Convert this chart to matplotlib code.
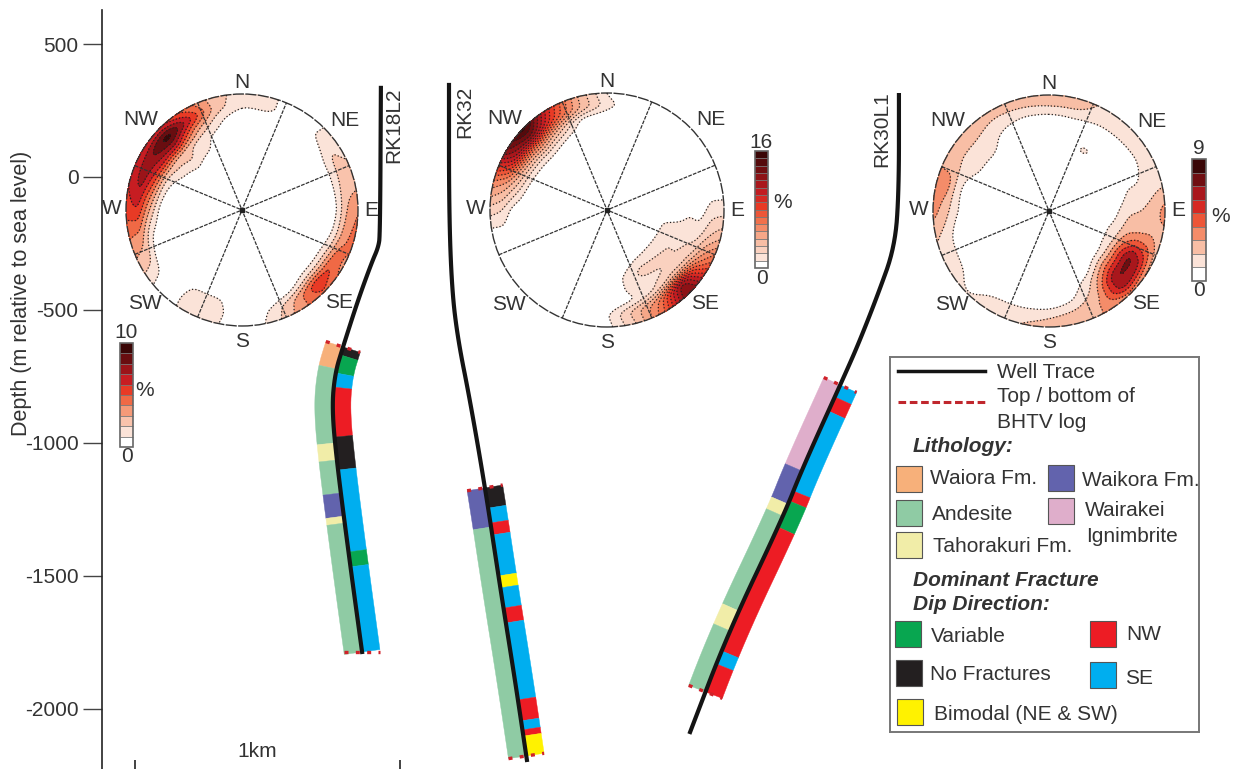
import matplotlib
matplotlib.use('Agg')
import matplotlib.pyplot as plt
from matplotlib.colors import LinearSegmentedColormap
from matplotlib.patches import Circle, Rectangle
import numpy as np

W, H = 1236, 769
plt.rcParams['font.family'] = ['Liberation Sans', 'DejaVu Sans']
plt.rcParams['axes.unicode_minus'] = False
TEXT = '#333333'
FS = 15

# well traces, x in metres from the scale bar, depth in metres
rk18_x = [928, 925, 918, 894, 842, 785, 755, 743, 762, 811, 857]
rk18_d = [335, -218, -265, -320, -462, -639, -737, -869, -1075, -1451, -1786]
rk32_x = [1185, 1185, 1196, 1219, 1264, 1321, 1378, 1434, 1479]
rk32_d = [346, -124, -425, -613, -838, -1166, -1542, -1891, -2192]
rk30_x = [2883, 2883, 2868, 2800, 2736, 2687, 2521, 2446, 2238, 2095]
rk30_d = [308, -49, -263, -451, -613, -726, -1090, -1278, -1715, -2087]

# log sections, depth measured on the trace
lith_colors = {'Waiora Fm.': '#f7b07a', 'Andesite': '#8fcba4', 'Tahorakuri Fm.': '#f1eda8',
               'Waikora Fm.': '#6263ad', 'Wairakei': '#dfaecb'}
frac_colors = {'Variable': '#08a650', 'No Fractures': '#231f20', 'Bimodal': '#fff200',
               'NW': '#ed1c24', 'SE': '#00aeef'}

rk18_lith_depth = [-639, -722, -1000, -1064, -1188, -1275, -1301, -1786]
rk18_lith = ['Waiora Fm.', 'Andesite', 'Tahorakuri Fm.', 'Andesite', 'Waikora Fm.', 'Tahorakuri Fm.', 'Andesite']
rk18_frac_depth = [-639, -669, -737, -790, -978, -1102, -1410, -1466, -1786]
rk18_frac = ['No Fractures', 'Variable', 'SE', 'NW', 'No Fractures', 'SE', 'Variable', 'SE']

rk32_lith_depth = [-1169, -1316, -2177]
rk32_lith = ['Waikora Fm.', 'Andesite']
rk32_frac_depth = [-1169, -1245, -1301, -1346, -1500, -1545, -1621, -1677, -1966, -2045, -2079, -2102, -2177]
rk32_frac = ['No Fractures', 'SE', 'NW', 'SE', 'Bimodal', 'SE', 'NW', 'SE', 'NW', 'SE', 'NW', 'Bimodal']

rk30_lith_depth = [-782, -1105, -1230, -1275, -1632, -1707, -1936]
rk30_lith = ['Wairakei', 'Waikora Fm.', 'Tahorakuri Fm.', 'Andesite', 'Tahorakuri Fm.', 'Andesite']
rk30_frac_depth = [-782, -827, -880, -1181, -1218, -1316, -1782, -1831, -1936]
rk30_frac = ['SE', 'NW', 'SE', 'NW', 'Variable', 'NW', 'SE', 'NW']

# pole density in percent, rows are stereonet radius, columns azimuth
net_az = np.arange(0, 360, 15)
net_r = [1.0, 0.9, 0.8, 0.7, 0.6, 0.5, 0.4]

rk18_density = np.array([
    [1.5, 1.2, 0.3, 1.0, 1.8, 2.5, 4.0, 4.5, 3.5, 5.0, 3.5, 1.3, 0.0, 1.3, 1.3, 0.3, 2.5, 4.0, 5.5, 6.0, 6.0, 6.0, 4.5, 2.5],
    [1.2, 1.3, 0.0, 1.1, 2.2, 2.5, 3.0, 3.5, 5.0, 6.0, 3.0, 1.0, 0.0, 1.5, 1.5, 0.0, 2.0, 3.5, 6.0, 7.5, 8.0, 10., 6.5, 2.5],
    [0.0, 0.3, 0.0, 0.0, 0.8, 0.8, 0.6, 1.0, 2.0, 2.0, 0.5, 0.0, 0.0, 1.2, 1.2, 0.0, 0.0, 1.0, 3.0, 5.0, 6.5, 7.0, 3.5, 1.3],
    [0.0, 0.0, 0.0, 0.0, 0.0, 0.0, 0.0, 0.0, 0.0, 0.0, 0.0, 0.0, 0.0, 0.0, 0.0, 0.0, 0.0, 0.0, 0.5, 1.5, 2.5, 2.5, 1.5, 0.6],
    [0.0, 0.0, 0.0, 0.0, 0.0, 0.0, 0.0, 0.0, 0.0, 0.0, 0.0, 0.0, 0.0, 0.0, 0.0, 0.0, 0.0, 0.0, 0.0, 0.0, 1.3, 2.0, 1.3, 0.0],
    [0.0, 0.0, 0.0, 0.0, 0.0, 0.0, 0.0, 0.0, 0.0, 0.0, 0.0, 0.0, 0.0, 0.0, 0.0, 0.0, 0.0, 0.0, 0.0, 0.0, 0.0, 0.8, 0.0, 0.0],
    [0.0] * 24])

rk32_density = np.array([
    [0.8, 0.0, 0.0, 0.0, 0.0, 0.0, 1.5, 4.0, 8.0, 14., 7.0, 3.0, 0.5, 0.0, 0.0, 0.0, 0.0, 0.0, 2.5, 6.0, 13., 16., 9.0, 4.0],
    [1.5, 0.0, 0.0, 0.0, 0.0, 0.0, 1.5, 3.0, 6.0, 13., 6.0, 3.5, 0.8, 0.0, 0.0, 0.0, 0.0, 0.3, 2.0, 5.0, 11., 13., 8.0, 4.0],
    [0.3, 0.0, 0.0, 0.0, 0.0, 0.0, 0.5, 1.5, 3.0, 3.5, 2.0, 0.8, 0.0, 0.0, 0.0, 0.0, 0.0, 0.0, 0.5, 3.0, 5.0, 6.0, 3.5, 0.5],
    [0.0, 0.0, 0.0, 0.0, 0.0, 0.0, 0.8, 1.5, 2.0, 2.0, 1.5, 1.2, 0.0, 0.0, 0.0, 0.0, 0.0, 0.0, 0.0, 0.8, 1.5, 2.0, 1.0, 0.0],
    [0.0, 0.0, 0.0, 0.0, 0.0, 0.0, 0.0, 1.5, 2.0, 2.2, 2.5, 1.2, 0.0, 0.0, 0.0, 0.0, 0.0, 0.0, 0.0, 0.0, 0.0, 0.0, 0.0, 0.0],
    [0.0, 0.0, 0.0, 0.0, 0.0, 0.0, 0.0, 1.2, 1.3, 1.5, 1.2, 0.5, 0.0, 0.0, 0.0, 0.0, 0.0, 0.0, 0.0, 0.0, 0.0, 0.0, 0.0, 0.0],
    [0.0, 0.0, 0.0, 0.0, 0.0, 0.0, 0.0, 0.0, 0.3, 0.0, 0.0, 0.0, 0.0, 0.0, 0.0, 0.0, 0.0, 0.0, 0.0, 0.0, 0.0, 0.0, 0.0, 0.0]])

rk30_density = np.array([
    [2.8, 2.8, 1.6, 1.5, 1.3, 1.6, 3.5, 2.5, 2.5, 3.5, 3.0, 3.0, 2.5, 2.0, 1.8, 1.0, 1.6, 2.0, 3.5, 3.5, 2.5, 2.5, 2.5, 2.8],
    [2.0, 2.0, 1.4, 1.3, 1.2, 1.5, 2.5, 3.0, 6.0, 7.0, 3.0, 2.2, 1.8, 1.5, 1.4, 0.5, 1.3, 1.4, 2.5, 3.5, 2.2, 2.2, 1.8, 1.8],
    [0.5, 0.7, 0.5, 0.5, 0.5, 1.1, 2.0, 3.0, 7.5, 7.0, 2.5, 1.0, 0.3, 0.2, 0.0, 0.0, 0.0, 0.3, 1.2, 1.2, 1.5, 1.5, 1.0, 0.5],
    [0.0, 0.0, 0.0, 0.3, 0.3, 1.0, 1.8, 2.8, 5.0, 4.5, 1.8, 0.3, 0.0, 0.0, 0.0, 0.0, 0.0, 0.0, 0.2, 0.3, 1.2, 1.3, 0.5, 0.0],
    [0.0, 0.0, 1.5, 0.0, 0.0, 0.3, 1.0, 1.5, 2.0, 2.0, 0.3, 0.0, 0.0, 0.0, 0.0, 0.0, 0.0, 0.0, 0.0, 0.0, 0.0, 0.0, 0.0, 0.0],
    [0.0, 0.0, 0.0, 0.0, 0.0, 0.0, 0.0, 0.8, 0.7, 0.0, 0.0, 0.0, 0.0, 0.0, 0.0, 0.0, 0.0, 0.0, 0.0, 0.0, 0.0, 0.0, 0.0, 0.0],
    [0.0] * 24])

compass = ['N', 'NE', 'E', 'SE', 'S', 'SW', 'W', 'NW']
compass_xy = [(0, 1.10), (0.89, 0.77), (1.11, 0.0), (0.84, -0.80), (0, -1.13), (-0.84, -0.81), (-1.12, 0.01), (-0.87, 0.78)]

depth_ticks = [500, 0, -500, -1000, -1500, -2000]
scale_ticks = [0, 1000]

density_cmap = LinearSegmentedColormap.from_list('density', ['#fbe3d8', '#f9c3ac', '#f59a78', '#f06a45', '#e93a25',
                                                              '#c81d22', '#9c1419', '#6a0d10', '#3a0606'])


def box(left, top, width, height):
    return [left / W, 1 - (top + height) / H, width / W, height / H]


def fine_density(grid):
    # bilinear up to a fine polar grid, then a light smoothing
    az = np.arange(0, 362, 2.0)
    r = np.linspace(0, 1, 61)
    rows = np.array([np.interp(az, net_az, row, period=360) for row in grid])
    radii = np.array(net_r[::-1])
    z = np.array([np.interp(r, radii, col, left=0) for col in rows[::-1].T])
    kernel = np.array([1, 2, 3, 2, 1]) / 9
    z = np.apply_along_axis(lambda v: np.convolve(np.r_[v[-3:-1], v, v[1:3]], kernel, 'valid'), 0, z)
    z = np.apply_along_axis(lambda v: np.convolve(np.pad(v, 2, mode='edge'), kernel, 'valid'), 1, z)
    rad = np.deg2rad(az)
    return np.outer(np.sin(rad), r), np.outer(np.cos(rad), r), z


def draw_net(fig, cx, cy, radius, grid, vmax, bar_box, top_xy, bot_xy, pct_xy):
    size = radius * 1.4
    ax = fig.add_axes(box(cx - size, cy - size, 2 * size, 2 * size))
    ax.set_xlim(-1.4, 1.4)
    ax.set_ylim(-1.4, 1.4)
    ax.axis('off')
    ax.patch.set_alpha(0)
    x, y, z = fine_density(grid)
    levels = np.arange(0, vmax + 1)
    fill = ['#ffffff'] + [density_cmap(i / (vmax - 2)) for i in range(vmax - 1)]
    cf = ax.contourf(x, y, z, levels=levels, colors=fill, extend='neither')
    ax.contour(x, y, z, levels=levels[1:], colors='#222222', linewidths=0.9, linestyles=':')
    ax.add_patch(Circle((0, 0), 1, fill=False, ec='#333333', lw=1.0, ls=(0, (8, 1))))
    for a in [22.5, 67.5, 112.5, 157.5]:
        s, c = np.sin(np.deg2rad(a)), np.cos(np.deg2rad(a))
        ax.plot([-s, s], [-c, c], color='#333333', lw=0.9, ls=(0, (3, 1)))
    ax.plot(0, 0, 's', color='#222222', ms=2.5)
    for name, (tx, ty) in zip(compass, compass_xy):
        ax.text(tx, ty, name, ha='center', va='center', fontsize=FS, color=TEXT)

    cax = fig.add_axes(box(*bar_box))
    cb = fig.colorbar(cf, cax=cax, drawedges=True)
    cb.set_ticks([])
    cb.outline.set_edgecolor('#666666')
    cb.outline.set_linewidth(1.2)
    cb.dividers.set_color('#777777')
    cb.dividers.set_linewidth(0.6)
    fig.text(top_xy[0] / W, 1 - top_xy[1] / H, str(vmax), ha='center', va='center', fontsize=FS, color=TEXT)
    fig.text(bot_xy[0] / W, 1 - bot_xy[1] / H, '0', ha='center', va='center', fontsize=FS, color=TEXT)
    fig.text(pct_xy[0] / W, 1 - pct_xy[1] / H, '%', ha='center', va='center', fontsize=FS, color=TEXT)


def rounded(x, d, passes=3):
    # corner cutting so the trace bends smoothly between the read points
    x, d = np.array(x, float), np.array(d, float)
    for _ in range(passes):
        qx, qd = 0.75 * x[:-1] + 0.25 * x[1:], 0.75 * d[:-1] + 0.25 * d[1:]
        rx, rd = 0.25 * x[:-1] + 0.75 * x[1:], 0.25 * d[:-1] + 0.75 * d[1:]
        x = np.r_[x[0], np.column_stack([qx, rx]).ravel(), x[-1]]
        d = np.r_[d[0], np.column_stack([qd, rd]).ravel(), d[-1]]
    return x, d


def strip(x, d, top, bot, side, width=68):
    # ribbon beside the trace, built from the trace normal
    depths = np.linspace(top, bot, 40)
    xs = np.interp(depths, d[::-1], x[::-1])
    dx = np.gradient(xs, depths)
    norm = np.sqrt(1 + dx ** 2)
    nx, ny = side / norm, -side * dx / norm
    return (xs + width * nx, depths + width * ny), (xs, depths)


def draw_well(ax, x, d, lith_d, lith, frac_d, frac, name, name_xy):
    x, d = rounded(x, d)
    for i, key in enumerate(lith):
        (ox, oy), (ix, iy) = strip(x, d, lith_d[i], lith_d[i + 1], -1)
        ax.fill(np.r_[ix, ox[::-1]], np.r_[iy, oy[::-1]], color=lith_colors[key], lw=0.3, zorder=2)
    for i, key in enumerate(frac):
        (ox, oy), (ix, iy) = strip(x, d, frac_d[i], frac_d[i + 1], 1)
        ax.fill(np.r_[ix, ox[::-1]], np.r_[iy, oy[::-1]], color=frac_colors[key], lw=0.3, zorder=2)
    for end in [lith_d[0], lith_d[-1]]:
        (lx, ly), _ = strip(x, d, end, end - 1, -1)
        (rx, ry), _ = strip(x, d, end, end - 1, 1)
        ax.plot([lx[0], rx[0]], [ly[0], ry[0]], color='#d0222a', lw=2.4, ls=(0, (1.2, 2.2)), zorder=4)
    ax.plot(x, d, color='#141414', lw=3, zorder=3, solid_joinstyle='round')
    ax.text(name_xy[0], name_xy[1], name, rotation=90, ha='center', va='center', fontsize=FS, color=TEXT)


fig = plt.figure(figsize=(W / 100, H / 100), dpi=100)
ax = fig.add_axes([0, 0, 1, 1])
ax.set_xlim(-509.4, 4155)
ax.set_ylim(-2226, 665.5)
ax.patch.set_alpha(0)
for side in ['top', 'right', 'bottom']:
    ax.spines[side].set_visible(False)
ax.spines['left'].set_position(('data', -124.5))
ax.spines['left'].set_bounds(-2226, 628)
ax.spines['left'].set_color('#222222')
ax.spines['left'].set_linewidth(1.2)
ax.set_yticks(depth_ticks)
ax.tick_params(axis='y', length=14, width=1, color='#444444', labelsize=FS, labelcolor=TEXT, pad=3)
ax.set_xticks(scale_ticks)
ax.set_xticklabels([])
ax.tick_params(axis='x', direction='in', length=6.5, width=1.2, color='#222222')
ax.text(-430, -436, 'Depth (m relative to sea level)', rotation=90, ha='center', va='center', fontsize=FS + 0.5, color=TEXT)
ax.text(460, -2160, '1km', ha='center', va='center', fontsize=FS, color=TEXT)

draw_well(ax, rk18_x, rk18_d, rk18_lith_depth, rk18_lith, rk18_frac_depth, rk18_frac, 'RK18L2', (978, 195))
draw_well(ax, rk32_x, rk32_d, rk32_lith_depth, rk32_lith, rk32_frac_depth, rk32_frac, 'RK32', (1243, 245))
draw_well(ax, rk30_x, rk30_d, rk30_lith_depth, rk30_lith, rk30_frac_depth, rk30_frac, 'RK30L1', (2818, 180))

draw_net(fig, 242, 210, 116, rk18_density, 10, (120, 343, 13, 104), (126, 332), (127, 457), (145, 390))
draw_net(fig, 607, 210, 117, rk32_density, 16, (755, 151, 13, 117), (761, 142), (762, 278), (783, 203))
draw_net(fig, 1049, 211, 116, rk30_density, 9, (1192, 159, 14, 122), (1199, 149), (1199, 291), (1221, 216))

# legend panel, laid out in pixels
leg = fig.add_axes(box(890, 357, 309, 375))
leg.set_xlim(890, 1199)
leg.set_ylim(732, 357)
leg.set_xticks([])
leg.set_yticks([])
for s in leg.spines.values():
    s.set_color('#777777')
    s.set_linewidth(1.4)


def label(x, y, s, **kw):
    leg.text(x, y, s, ha='left', va='center', fontsize=FS, color=TEXT, clip_on=False, **kw)


def swatch(x, y, c):
    leg.add_patch(Rectangle((x, y), 26, 26, fc=c, ec='#555555', lw=0.8))


leg.plot([898, 985], [371, 371], color='#141414', lw=2.5)
leg.plot([898, 985], [402, 402], color='#c0272d', lw=2.2, ls=(0, (2.5, 1.2)))
label(997, 373, 'Well Trace')
label(997, 397, 'Top / bottom of')
label(997, 422, 'BHTV log')
label(913, 446, 'Lithology:', fontweight='bold', fontstyle='italic')
swatch(896, 466, lith_colors['Waiora Fm.'])
label(930, 479, 'Waiora Fm.')
swatch(896, 500, lith_colors['Andesite'])
label(932, 514, 'Andesite')
swatch(896, 532, lith_colors['Tahorakuri Fm.'])
label(933, 547, 'Tahorakuri Fm.')
swatch(1048, 465, lith_colors['Waikora Fm.'])
label(1082, 480, 'Waikora Fm.')
swatch(1048, 498, lith_colors['Wairakei'])
label(1085, 510, 'Wairakei')
label(1086, 536, 'Ignimbrite')
label(913, 580, 'Dominant Fracture', fontweight='bold', fontstyle='italic')
label(913, 605, 'Dip Direction:', fontweight='bold', fontstyle='italic')
swatch(895, 621, frac_colors['Variable'])
label(931, 636, 'Variable')
swatch(896, 660, frac_colors['No Fractures'])
label(930, 674, 'No Fractures')
swatch(897, 699, frac_colors['Bimodal'])
label(934, 715, 'Bimodal (NE & SW)')
swatch(1090, 621, frac_colors['NW'])
label(1126, 635, 'NW')
swatch(1090, 662, frac_colors['SE'])
label(1125, 678, 'SE')

fig.savefig('out.png', dpi=100)
